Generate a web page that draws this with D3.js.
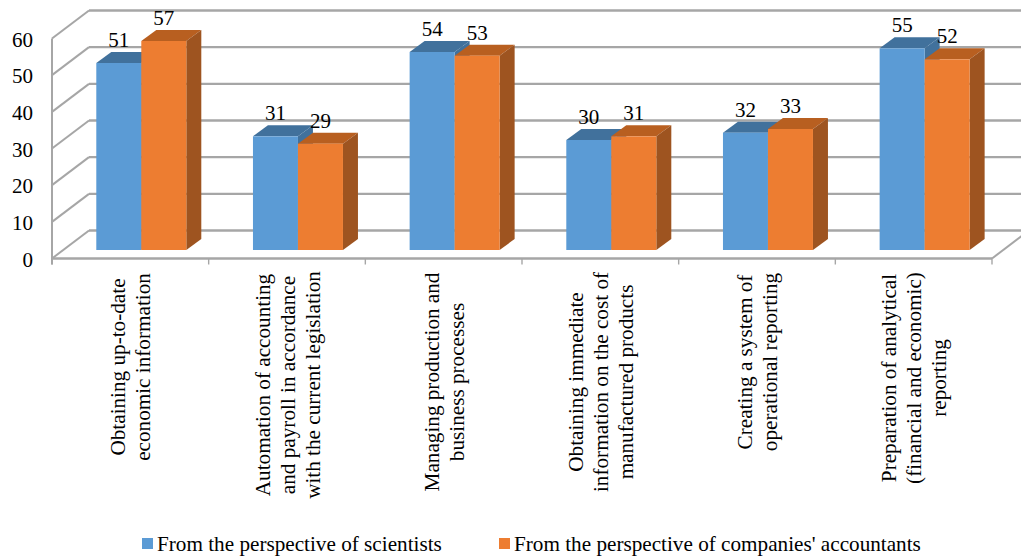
<!DOCTYPE html>
<html><head><meta charset="utf-8">
<script src="https://cdn.jsdelivr.net/npm/d3@7"></script>
<style>html,body{margin:0;padding:0;background:#fff;overflow:hidden}svg{display:block;font-family:"Liberation Serif",serif;fill:#000}</style>
</head><body><svg id="c" width="1021" height="558"></svg>
<script>
const categories = [
  ["Obtaining up-to-date","economic information"],
  ["Automation of accounting","and payroll in accordance","with the current legislation"],
  ["Managing production and","business processes"],
  ["Obtaining immediate","information on the cost of","manufactured products"],
  ["Creating a system of","operational reporting"],
  ["Preparation of analytical","(financial and economic)","reporting"]
];
const seriesNames = ["From the perspective of scientists","From the perspective of companies' accountants"];
const scientists = [51,31,54,30,32,55];
const accountants = [57,29,53,31,33,52];
const yTicks = [0,10,20,30,40,50,60];

const svg = d3.select("#c");
const x = d3.scaleBand().domain(d3.range(categories.length)).range([52,992]);
const y = d3.scaleLinear().domain([0,60]).range([258.5,38.5]);
const wallDx = 37, wallDy = -28, floorDy = -8.5, barW = 45, barDx = 15, barDy = -11;
const grey = "#a6a6a6";
const grid = svg.append("g").attr("stroke",grey).attr("fill","none");
grid.selectAll("line.g").data(yTicks).join("line").attr("class","g")
  .attr("x1",x.range()[0]+wallDx).attr("x2",1021)
  .attr("y1",d=>y(d)+wallDy).attr("y2",d=>y(d)+wallDy).attr("stroke-width",2.4);
grid.selectAll("line.d").data(yTicks).join("line").attr("class","d")
  .attr("x1",x.range()[0]).attr("x2",x.range()[0]+wallDx)
  .attr("y1",d=>y(d)).attr("y2",d=>y(d)+wallDy).attr("stroke-width",2);
grid.append("line").attr("x1",52).attr("x2",52).attr("y1",y(60)).attr("y2",y(0)+6).attr("stroke-width",2);
grid.append("line").attr("x1",52).attr("x2",992).attr("y1",y(0)).attr("y2",y(0)).attr("stroke-width",2.4);
grid.append("line").attr("x1",992).attr("x2",992+wallDx).attr("y1",y(0)).attr("y2",y(0)+wallDy).attr("stroke-width",2);
grid.selectAll("line.t").data(d3.range(categories.length+1)).join("line").attr("class","t")
  .attr("x1",d=>52+d*x.step()).attr("x2",d=>52+d*x.step())
  .attr("y1",y(0)).attr("y2",y(0)+6).attr("stroke-width",1.4);

function bar(g,cx,v,front,side,top){
  const x0=cx, x1=cx+barW, yb=y(0)+floorDy, yt=y(v)+floorDy;
  g.append("polygon").attr("fill",top).attr("points",[[x0,yt],[x0+barDx,yt+barDy],[x1+barDx,yt+barDy],[x1,yt]].join(" "));
  g.append("polygon").attr("fill",side).attr("points",[[x1,yt],[x1+barDx,yt+barDy],[x1+barDx,yb+barDy],[x1,yb]].join(" "));
  g.append("rect").attr("x",x0).attr("y",yt).attr("width",barW).attr("height",yb-yt).attr("fill",front);
}
const bars = svg.append("g");
categories.forEach((c,i)=>{
  const left = x(i)+44.3;
  const g = bars.append("g");
  bar(g,left,scientists[i],"#5b9bd5","#41719c","#41719c");
  bar(g,left+barW,accountants[i],"#ed7d31","#9e5420","#b85f20");
});
const lab = svg.append("g").attr("font-size",21).attr("text-anchor","middle");
categories.forEach((c,i)=>{
  const left = x(i)+44.3;
  lab.append("text").attr("x",left+barW/2).attr("y",y(scientists[i])+floorDy-16).text(scientists[i]);
  lab.append("text").attr("x",left+barW*1.5).attr("y",y(accountants[i])+floorDy-16).text(accountants[i]);
});
svg.append("g").attr("font-size",21).attr("text-anchor","end").selectAll("text").data(yTicks).join("text")
  .attr("x",33).attr("y",d=>y(d)+8).text(d=>d);
const xl = svg.append("g").attr("font-size",21.2).attr("text-anchor","middle");
const centerY = [367,385,382,382,362,378];
categories.forEach((c,i)=>{
  const cx = x(i)+x.step()/2, n=c.length;
  c.forEach((line,j)=>{
    const px = cx + 7.5 + (j-(n-1)/2)*25;
    xl.append("text").attr("transform",`translate(${px},${centerY[i]}) rotate(-90)`).text(line);
  });
});
const leg = svg.append("g").attr("font-size",21.2);
[[142,"#5b9bd5",157],[499,"#ed7d31",514]].forEach((d,i)=>{
  leg.append("rect").attr("x",d[0]).attr("y",538).attr("width",11).attr("height",11).attr("fill",d[1]);
  leg.append("text").attr("x",d[2]).attr("y",551).text(seriesNames[i]);
});
</script></body></html>
